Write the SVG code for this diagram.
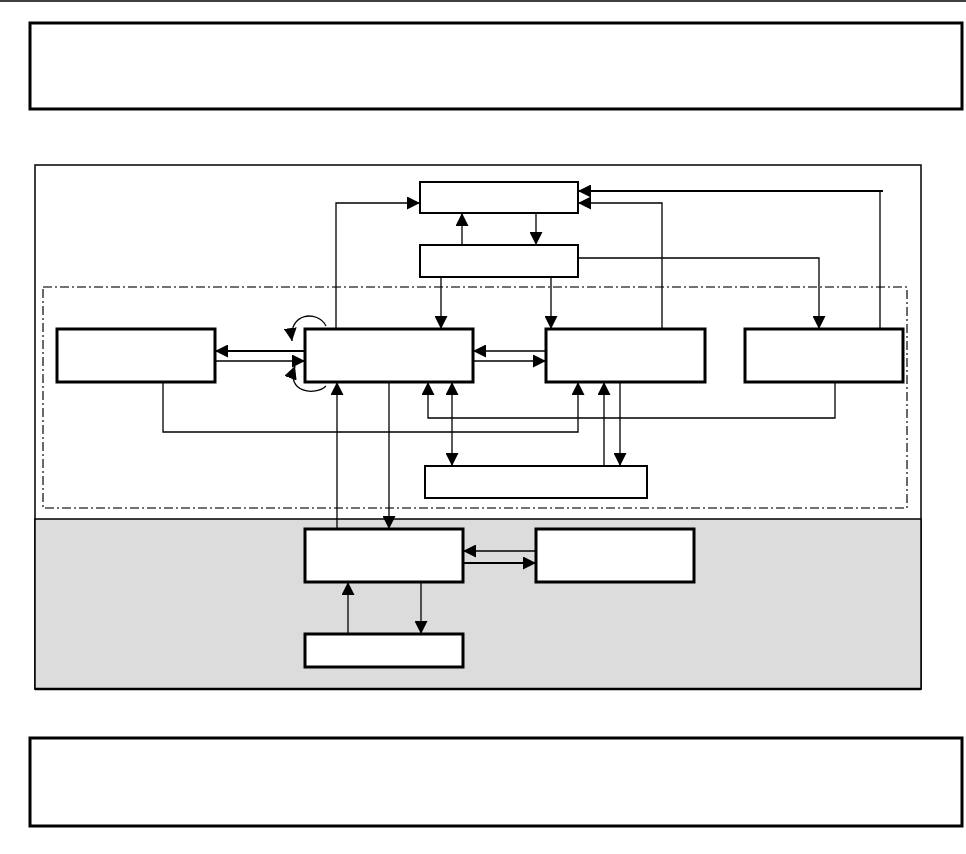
<svg xmlns="http://www.w3.org/2000/svg" width="966" height="854" viewBox="0 0 966 854">
<style>
.box{fill:#fff;stroke:#000;stroke-width:3}
.thin{fill:#fff;stroke:#000;stroke-width:2}
.c{fill:none;stroke:#000;stroke-width:1.3}
.ct{fill:none;stroke:#000;stroke-width:2.2}
</style>
<defs>
<marker id="ah" markerUnits="userSpaceOnUse" markerWidth="14" markerHeight="13" refX="13" refY="6.5" orient="auto" viewBox="0 0 14 13">
<path d="M0,0 L13,6.5 L0,13 z" fill="#000"/>
</marker>
</defs>
<rect width="966" height="854" fill="#fff"/>
<line x1="0" y1="1" x2="966" y2="1" stroke="#000" stroke-width="1.3"/>
<g id="top-note"><rect x="30" y="23" width="932" height="86" class="box"/></g>
<g id="frame">
<rect x="35" y="165" width="886" height="524" fill="#fff" stroke="#000" stroke-width="1.5"/>
<rect x="35" y="519" width="886" height="170" fill="#dcdcdc" stroke="#000" stroke-width="1.5"/>
<line x1="35" y1="689" x2="921" y2="689" stroke="#000" stroke-width="2.5"/>
<rect x="43" y="287" width="864" height="221" fill="none" stroke="#444" stroke-width="1.6" stroke-dasharray="9,3,2,3"/>
</g>
<g id="connectors">
<path class="c" d="M336,329 V203 H420" marker-end="url(#ah)"/>
<path class="c" d="M536,213 V245" marker-end="url(#ah)"/>
<path class="c" d="M462,245 V213" marker-end="url(#ah)"/>
<path class="c" d="M441,277 V329" marker-end="url(#ah)"/>
<path class="c" d="M551,277 V329" marker-end="url(#ah)"/>
<path class="c" d="M576,258 H819 V329" marker-end="url(#ah)"/>
<path class="c" d="M662,329 V203 H578" marker-end="url(#ah)"/>
<path class="c" d="M880,329 V191"/>
<path class="ct" d="M883,191 H578" marker-end="url(#ah)"/>
<path class="ct" d="M305,351 H215" marker-end="url(#ah)"/>
<path class="c" d="M215,361 H305" marker-end="url(#ah)"/>
<path class="c" d="M326,326 C318,310 288,312 292,341" marker-end="url(#ah)"/>
<path class="c" d="M326,386 C316,396 285,393 295,366" marker-end="url(#ah)"/>
<path class="c" d="M163,382 V432 H578 V382" marker-end="url(#ah)"/>
<path class="c" d="M835,382 V418 H428 V382" marker-end="url(#ah)"/>
<path class="c" d="M452,420 V382" marker-end="url(#ah)"/>
<path class="c" d="M452,420 V466" marker-end="url(#ah)"/>
<path class="c" d="M604,466 V382" marker-end="url(#ah)"/>
<path class="c" d="M620,382 V466" marker-end="url(#ah)"/>
<path class="c" d="M546,351 H473" marker-end="url(#ah)"/>
<path class="c" d="M473,361 H546" marker-end="url(#ah)"/>
<path class="c" d="M337,529 V382" marker-end="url(#ah)"/>
<path class="c" d="M389,382 V529" marker-end="url(#ah)"/>
<path class="c" d="M536,551 H463" marker-end="url(#ah)"/>
<path class="ct" d="M463,563 H536" marker-end="url(#ah)"/>
<path class="c" d="M348,634 V582" marker-end="url(#ah)"/>
<path class="c" d="M421,582 V634" marker-end="url(#ah)"/>
</g>
<g id="node-a"><rect x="420" y="182" width="158" height="31" class="thin"/></g>
<g id="node-b"><rect x="420" y="245" width="158" height="32" class="thin"/></g>
<g id="node-c"><rect x="57" y="329" width="158" height="53" class="box"/></g>
<g id="node-d"><rect x="305" y="329" width="168" height="53" class="box"/></g>
<g id="node-e"><rect x="546" y="329" width="159" height="53" class="box"/></g>
<g id="node-f"><rect x="745" y="329" width="158" height="53" class="box"/></g>
<g id="node-g"><rect x="425" y="466" width="222" height="32" class="thin"/></g>
<g id="node-h"><rect x="305" y="529" width="158" height="53" class="box"/></g>
<g id="node-i"><rect x="536" y="529" width="158" height="53" class="box"/></g>
<g id="node-j"><rect x="305" y="634" width="158" height="33" class="box"/></g>
<g id="bottom-note"><rect x="30" y="738" width="932" height="88" class="box"/></g>
</svg>
